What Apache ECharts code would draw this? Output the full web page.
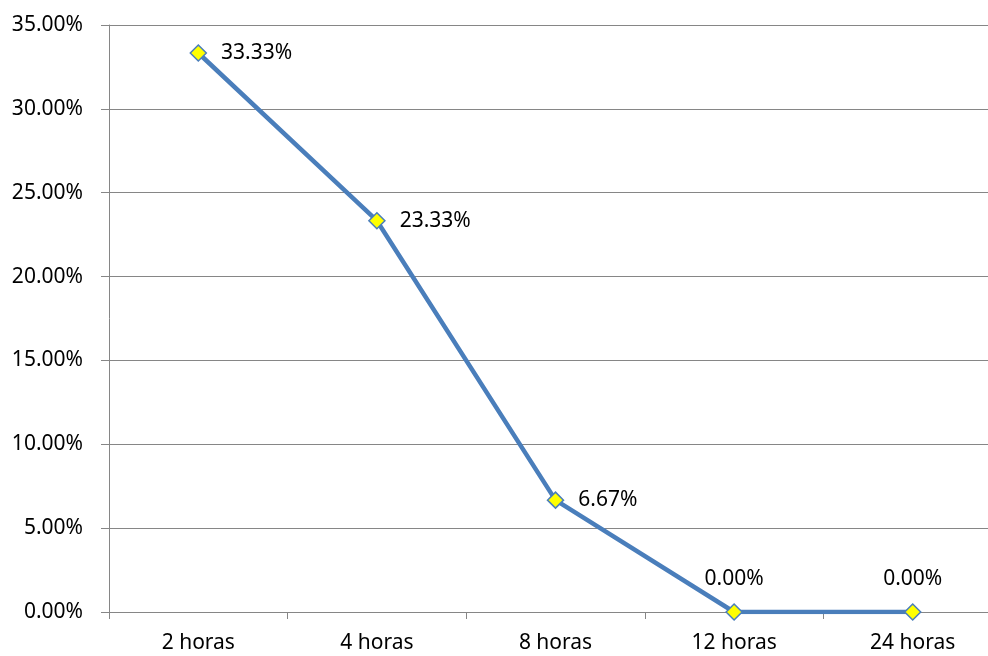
<!DOCTYPE html>
<html>
<head>
<meta charset="utf-8">
<script src="https://cdn.jsdelivr.net/npm/echarts@6/dist/echarts.min.js"></script>
<style>
html,body{margin:0;padding:0;background:#fff;}
#chart{width:988px;height:656px;}
</style>
</head>
<body>
<div id="chart"></div>
<script>
const categories = ['2 horas', '4 horas', '8 horas', '12 horas', '24 horas'];
const values = [33.33, 23.33, 6.67, 0.00, 0.00];
const labelPositions = ['right', 'right', 'right', 'top', 'top'];

const FONT = 'Noto Sans';
const chart = echarts.init(document.getElementById('chart'));
chart.setOption({
  animation: false,
  backgroundColor: '#fff',
  grid: { left: 109, top: 25, right: -14, bottom: 44, containLabel: false, outerBoundsMode: 'none' },
  xAxis: {
    type: 'category',
    data: categories,
    boundaryGap: true,
    axisLine: { lineStyle: { color: '#868686', width: 1 } },
    axisTick: { show: true, length: 7, interval: 0, lineStyle: { color: '#868686' } },
    axisLabel: { color: '#000', fontFamily: FONT, fontSize: 21, margin: 21, interval: 0 },
    splitLine: { show: false }
  },
  yAxis: {
    type: 'value',
    min: 0, max: 35, interval: 5,
    axisLine: { show: true, lineStyle: { color: '#868686', width: 1 } },
    axisTick: { show: true, length: 8, lineStyle: { color: '#868686' } },
    axisLabel: { color: '#000', fontFamily: FONT, fontSize: 21, margin: 26,
      formatter: v => v.toFixed(2) + '%' },
    splitLine: { show: true, lineStyle: { color: '#868686', width: 1 } }
  },
  series: [{
    type: 'line',
    data: values.map((v, i) => ({
      value: v,
      label: { position: labelPositions[i], distance: labelPositions[i] === 'top' ? 14 : 14 }
    })),
    symbol: 'diamond',
    symbolSize: 16,
    lineStyle: { color: '#4a7ebb', width: 4.5 },
    itemStyle: { color: '#ffff00', borderColor: '#4a7ebb', borderWidth: 1.5 },
    label: {
      show: true, color: '#000', fontFamily: FONT, fontSize: 21,
      formatter: p => p.value.toFixed(2) + '%'
    },
    z: 3
  }]
});
</script>
</body>
</html>
